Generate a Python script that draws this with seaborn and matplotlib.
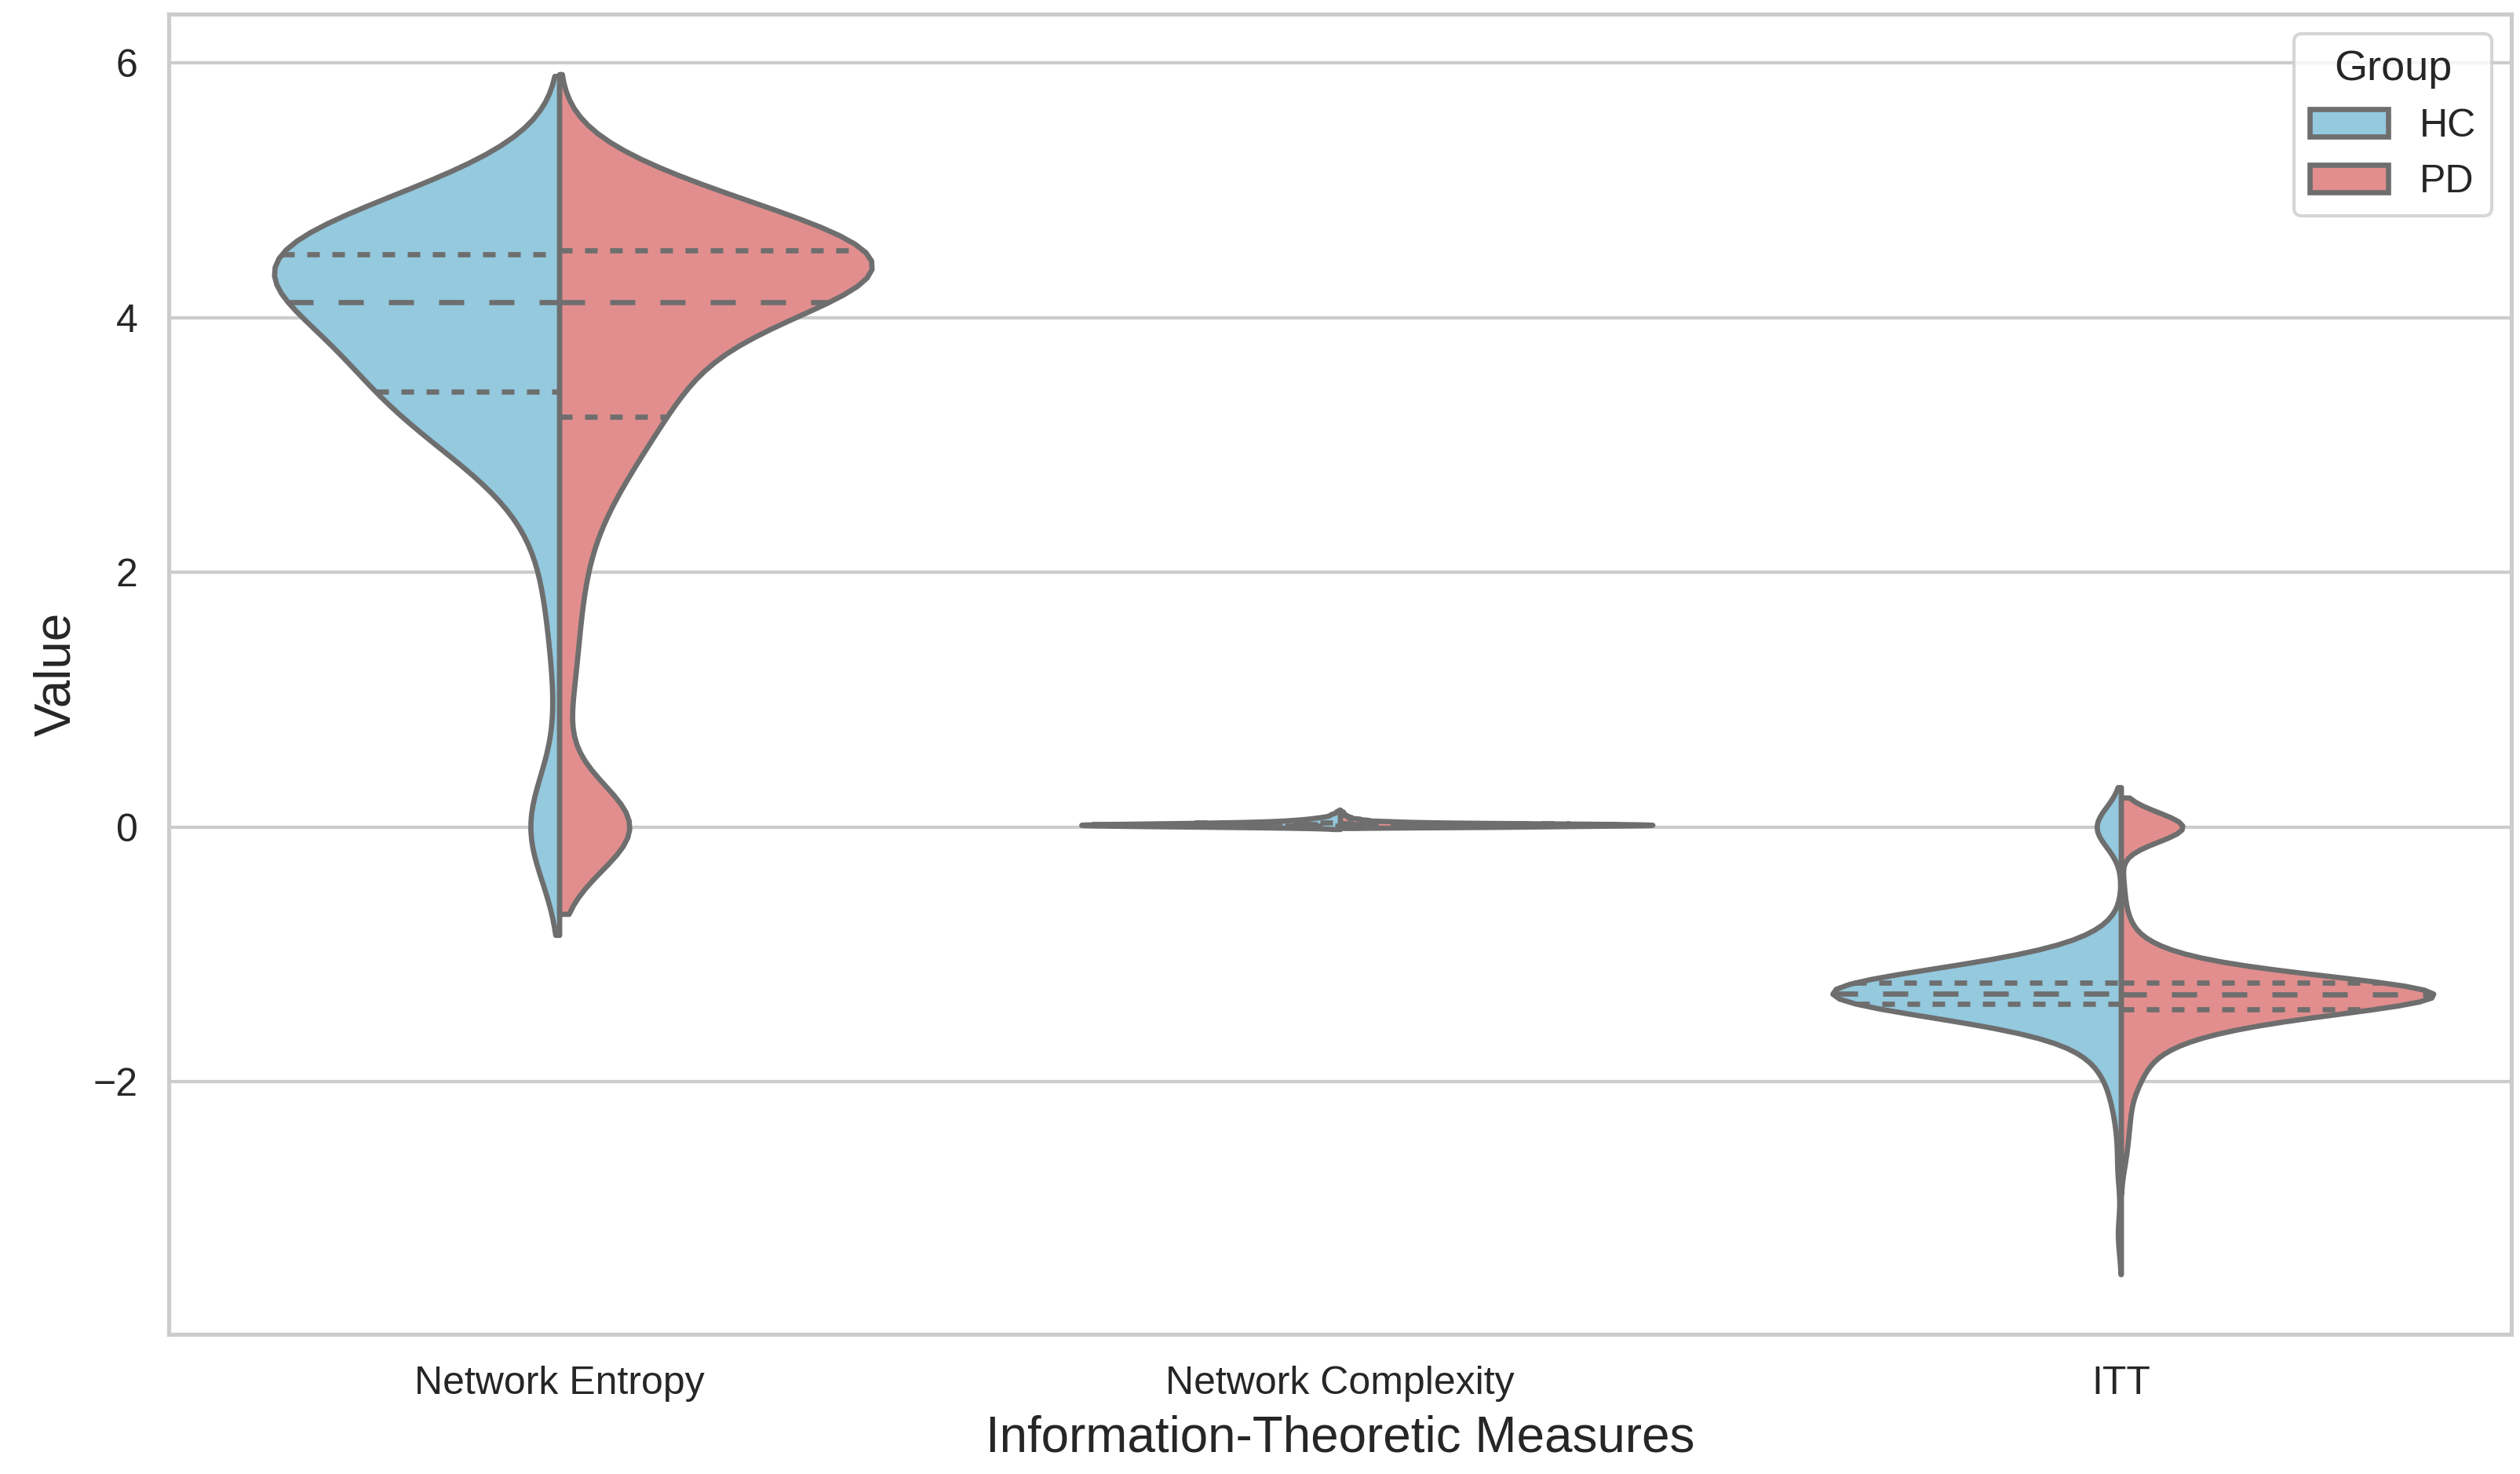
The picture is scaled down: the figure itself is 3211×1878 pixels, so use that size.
import numpy as np
import pandas as pd
import matplotlib
matplotlib.use('Agg')
import matplotlib.pyplot as plt
import seaborn as sns

sns.set_theme(style='whitegrid')
plt.rcParams['font.family'] = ['Liberation Sans', 'DejaVu Sans']

MEASURES = ['Network Entropy', 'Network Complexity', 'ITT']
GROUPS = ['HC', 'PD']
PALETTE = {'HC': 'skyblue', 'PD': 'lightcoral'}
LW = 1.6

HC_ENTROPY_VALUES = [0.0, 1.2, 1.8, 2.3, 2.65, 2.9, 3.1, 3.28, 3.42, 3.62, 3.85,
                     4.12, 4.3, 4.5, 4.7, 4.88, 5.05]
HC_ENTROPY_COUNTS = [7, 1, 2, 2, 3, 5, 6, 7, 9, 10, 11, 13, 15, 21, 15, 7, 3]

PD_ENTROPY_VALUES = [0.0, 0.9, 1.2, 1.5, 1.8, 2.1, 2.4, 2.65, 2.85, 3.05, 3.22,
                     3.4, 3.58, 3.76, 3.94, 4.12, 4.28, 4.42, 4.53, 4.68, 4.84,
                     5.0, 5.12, 5.23]
PD_ENTROPY_COUNTS = [140, 10, 12, 14, 16, 20, 26, 30, 36, 42, 40, 52, 62, 58, 65,
                     85, 160, 160, 100, 100, 80, 55, 25, 10]

HC_COMPLEXITY_VALUES = [0.0, 0.005, 0.01, 0.015, 0.02, 0.025, 0.032, 0.04, 0.05,
                        0.06, 0.072, 0.085, 0.1, 0.12]
HC_COMPLEXITY_COUNTS = [9, 10, 18, 22, 20, 15, 12, 9, 7, 5, 4, 2, 2, 1]

PD_COMPLEXITY_VALUES = [0.0, 0.005, 0.01, 0.015, 0.02, 0.025, 0.03, 0.037, 0.045,
                        0.055, 0.065, 0.078, 0.09, 0.105, 0.12]
PD_COMPLEXITY_COUNTS = [140, 120, 190, 220, 210, 170, 120, 80, 55, 35, 25, 15, 10, 6, 4]

HC_ITT_VALUES = [-3.2, -2.7, -2.4, -2.15, -1.95, -1.85, -1.75, -1.65, -1.57, -1.5,
                 -1.44, -1.39, -1.35, -1.31, -1.27, -1.225, -1.18, -1.12, -1.05,
                 -0.97, -0.9, -0.8, 0.0]
HC_ITT_COUNTS = [1, 1, 1, 2, 2, 2, 3, 4, 5, 7, 9, 12, 15, 18, 17, 14, 10, 7, 5, 4, 2, 1, 8]

PD_ITT_VALUES = [-2.65, -2.5, -2.35, -2.2, -2.05, -1.95, -1.85, -1.76, -1.68, -1.6,
                 -1.53, -1.47, -1.42, -1.39, -1.36, -1.33, -1.3, -1.27, -1.23,
                 -1.19, -1.14, -1.07, -1.0, -0.92, -0.8, -0.65, -0.45, 0.0]
PD_ITT_COUNTS = [5, 8, 10, 12, 15, 18, 20, 25, 35, 54, 68, 80, 60, 80, 100, 110, 110,
                 120, 120, 40, 55, 45, 30, 16, 12, 7, 5, 140]

samples = [
    ('Network Entropy', 'HC', HC_ENTROPY_VALUES, HC_ENTROPY_COUNTS),
    ('Network Entropy', 'PD', PD_ENTROPY_VALUES, PD_ENTROPY_COUNTS),
    ('Network Complexity', 'HC', HC_COMPLEXITY_VALUES, HC_COMPLEXITY_COUNTS),
    ('Network Complexity', 'PD', PD_COMPLEXITY_VALUES, PD_COMPLEXITY_COUNTS),
    ('ITT', 'HC', HC_ITT_VALUES, HC_ITT_COUNTS),
    ('ITT', 'PD', PD_ITT_VALUES, PD_ITT_COUNTS),
]
frames = []
for measure, group, vals, cnts in samples:
    obs = np.repeat(vals, cnts)
    frames.append(pd.DataFrame({'Measure': measure, 'Group': group, 'Value': obs}))
df = pd.concat(frames, ignore_index=True)

# ── plot ──────────────────────────────────────────────────────────────────────
fig, ax = plt.subplots(figsize=(3211 / 300, 1878 / 300), dpi=300)
fig.subplots_adjust(left=0.067, right=0.9966, top=0.9904, bottom=0.0948)

# one call per measure so the two halves are scaled against each other only
for i, measure in enumerate(MEASURES):
    sns.violinplot(data=df[df['Measure'] == measure], x='Measure', y='Value',
                   hue='Group', order=MEASURES, hue_order=GROUPS, split=True,
                   inner='quart', palette=PALETTE, linewidth=LW,
                   inner_kws={'linewidth': LW},
                   common_norm=True, legend='auto' if i == 0 else False, ax=ax)

# quartile / median dash style (short dashes for quartiles, long for median)
quart_lines = [ln for ln in ax.lines if len(ln.get_ydata()) == 2
               and ln.get_ydata()[0] == ln.get_ydata()[1]]
for k, ln in enumerate(quart_lines):
    ln.set_linewidth(LW)
    if k % 3 == 1:
        ln.set_dashes([3 * LW, 3 * LW])
    else:
        ln.set_dashes([1.5 * LW, 1.5 * LW])

ax.set_xlabel('Information-Theoretic Measures', fontsize=15.3)
ax.set_ylabel('Value', fontsize=15.3)
ax.tick_params(axis='both', labelsize=12)
sns.move_legend(ax, 'upper right', title='Group', fontsize=12, title_fontsize=13)

fig.savefig('out.png', dpi=300)
